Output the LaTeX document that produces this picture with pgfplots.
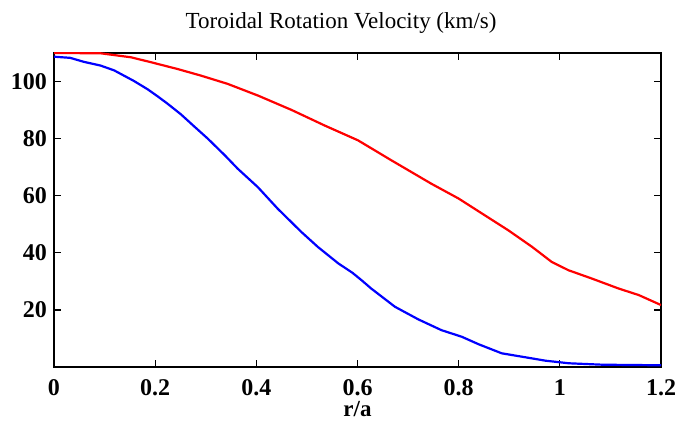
\documentclass[border=0pt]{standalone}
\usepackage{fontspec}
\setmainfont{Liberation Serif}
\usepackage{pgfplots}
\pgfplotsset{compat=1.18}
\begin{document}
\begin{tikzpicture}
\path[use as bounding box] (-27pt,-27pt) rectangle (312.5pt,183.5pt);
\begin{axis}[
  at={(0,0)}, anchor=south west,
  scale only axis, width=303.5pt, height=157pt,
  xmin=0, xmax=1.2, ymin=0, ymax=110,
  xtick={0,0.2,0.4,0.6,0.8,1,1.2},
  ytick={20,40,60,80,100},
  tick align=inside, tick pos=both,
  major tick length=3.5pt,
  axis line style={line width=0.65pt},
  every tick/.style={line width=0.65pt, black},
  /pgf/number format/assume math mode=true,
  ticklabel style={font=\fontsize{12}{12}\selectfont\bfseries},
  xticklabel style={anchor=base, yshift=-14.2pt},
  title={Toroidal Rotation Velocity (km/s)},
  title style={at={(0.473,1)}, anchor=base, yshift=6pt, font=\fontsize{11.5}{11.5}\selectfont},
  xlabel={r/a},
  xlabel style={at={(0.5,0)}, anchor=base, yshift=-24.6pt, font=\fontsize{11.5}{11.5}\selectfont\bfseries},
]
\addplot[color={rgb,255:red,255;green,0;blue,0}, line width=1.1pt] coordinates {
(0,110) (0.092,109.9) (0.152,108.5) (0.191,106.8) (0.244,104.4) (0.29,102.1)
(0.343,99.2) (0.403,95.1) (0.469,90.1) (0.535,84.6) (0.601,79.4)
(0.667,72.4) (0.746,64.2) (0.8,59) (0.852,53.1)
(0.898,47.9) (0.945,42.1) (0.984,36.8) (1.017,33.9) (1.063,31) (1.116,27.5)
(1.156,25.2) (1.2,21.7)
};
\addplot[color={rgb,255:red,0;green,0;blue,255}, line width=1.1pt] coordinates {
(0,108.7) (0.032,108.3) (0.059,106.9) (0.092,105.6) (0.119,103.9) (0.158,100.2)
(0.185,97.3) (0.205,94.8) (0.224,92.3) (0.251,88.5) (0.277,84.3) (0.304,80)
(0.338,74.1) (0.363,69.5) (0.403,63) (0.442,55.5) (0.489,47.3) (0.522,42)
(0.562,36.3) (0.59,33) (0.608,30.4) (0.627,27.5) (0.674,21.1) (0.72,16.7)
(0.766,12.9) (0.806,10.6) (0.839,8) (0.885,4.8) (0.932,3.4) (0.972,2.2)
(1.018,1.3) (1.084,0.8) (1.2,0.6)
};
\end{axis}
\end{tikzpicture}
\end{document}
